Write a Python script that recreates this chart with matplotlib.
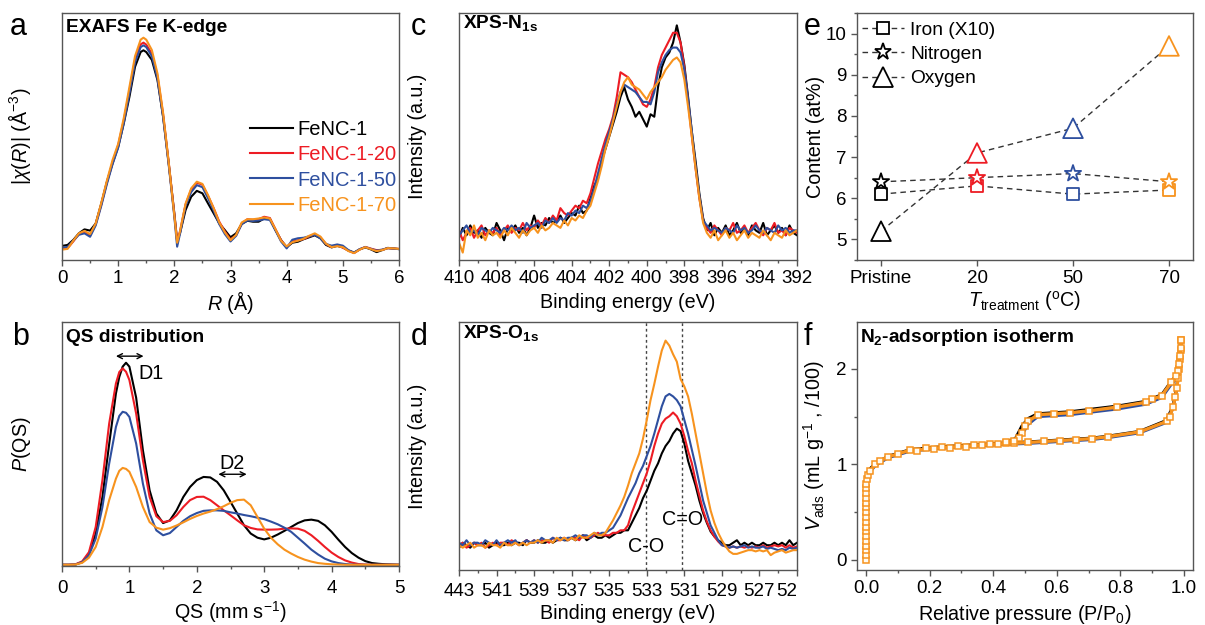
import matplotlib
matplotlib.use('Agg')
import matplotlib.pyplot as plt
import numpy as np
from matplotlib.ticker import MultipleLocator
from matplotlib.lines import Line2D

plt.rcParams['font.family'] = ['Liberation Sans', 'DejaVu Sans']
plt.rcParams['mathtext.fontset'] = 'custom'
plt.rcParams['mathtext.rm'] = 'Liberation Sans'
plt.rcParams['mathtext.it'] = 'Liberation Sans:italic'
plt.rcParams['mathtext.bf'] = 'Liberation Sans:bold'
plt.rcParams['axes.linewidth'] = 1.0
plt.rcParams['axes.edgecolor'] = '#555555'

# ---------------- data ----------------
sample_names = ['FeNC-1', 'FeNC-1-20', 'FeNC-1-50', 'FeNC-1-70']
sample_colors = ['#000000', '#ed1c24', '#2e4f9f', '#f7931e']

# (a) EXAFS |chi(R)|
exafs_r = [0.0, 0.1, 0.2, 0.3, 0.4, 0.5, 0.6, 0.7, 0.8, 0.9,
           1.0, 1.1, 1.2, 1.3, 1.4, 1.45, 1.5, 1.6, 1.7, 1.8,
           1.9, 2.0, 2.05, 2.1, 2.2, 2.3, 2.4, 2.5, 2.6, 2.7,
           2.8, 2.9, 3.0, 3.1, 3.2, 3.3, 3.4, 3.5, 3.6, 3.7,
           3.8, 3.9, 4.0, 4.1, 4.2, 4.3, 4.4, 4.5, 4.6, 4.7,
           4.8, 4.9, 5.0, 5.1, 5.2, 5.3, 5.4, 5.5, 5.6, 5.7,
           5.8, 5.9, 6.0]
exafs_fenc1 = [5.7, 6.1, 8.1, 10.8, 12.4, 11.9, 14.8, 22.9, 31.7, 39.1,
               45.8, 55.3, 66.0, 78.2, 84.2, 84.9, 84.2, 81.0, 72.8, 58.0,
               39.0, 18.9, 7.8, 10.8, 20.2, 25.6, 28.0, 27.0, 22.9, 18.9,
               14.8, 12.1, 9.2, 10.8, 14.6, 15.9, 15.5, 15.5, 16.8, 16.8,
               12.1, 8.1, 5.1, 7.0, 7.4, 8.4, 9.2, 10.0, 8.8, 6.1,
               5.1, 5.7, 5.1, 3.8, 3.0, 4.3, 5.1, 4.3, 3.2, 4.0,
               4.9, 4.7, 4.4]
exafs_fenc1_20 = [4.5, 4.8, 7.5, 10.5, 11.5, 10.0, 14.5, 22.5, 31.5, 39.5,
                  46.5, 56.5, 68.5, 81.0, 87.3, 88.0, 87.2, 83.5, 74.5, 59.0,
                  39.5, 18.5, 7.5, 11.5, 22.5, 28.5, 31.3, 30.5, 26.0, 21.0,
                  15.5, 11.5, 8.3, 10.0, 14.8, 16.5, 16.3, 16.5, 17.5, 17.0,
                  12.5, 8.0, 5.2, 7.5, 8.0, 8.5, 9.5, 10.4, 9.2, 6.5,
                  5.2, 6.0, 5.0, 3.8, 2.8, 4.3, 5.3, 4.6, 4.0, 4.1,
                  4.8, 4.6, 4.5]
exafs_fenc1_50 = [5.0, 5.3, 7.8, 10.2, 10.8, 9.4, 14.0, 22.0, 30.8, 38.8,
                  45.5, 55.5, 67.5, 80.0, 86.2, 86.9, 86.2, 82.5, 73.5, 58.0,
                  38.5, 17.5, 5.4, 10.5, 22.0, 27.5, 30.3, 29.5, 25.0, 20.0,
                  14.5, 10.5, 7.5, 9.8, 14.5, 16.0, 15.8, 16.0, 16.5, 16.2,
                  12.0, 7.5, 4.7, 8.2, 8.8, 9.0, 9.6, 10.2, 8.8, 6.5,
                  5.8, 6.3, 5.8, 4.0, 3.0, 4.4, 5.2, 4.5, 3.8, 4.2,
                  4.8, 4.6, 4.4]
exafs_fenc1_70 = [4.2, 4.5, 7.8, 10.8, 11.8, 10.5, 14.8, 23.2, 32.2, 40.5,
                  47.0, 57.5, 70.0, 82.5, 89.2, 90.0, 89.2, 85.0, 75.5, 59.5,
                  39.5, 18.0, 7.0, 11.5, 22.8, 29.0, 31.7, 30.8, 26.2, 21.0,
                  15.2, 11.2, 8.0, 10.2, 15.2, 16.5, 16.5, 16.8, 17.2, 16.8,
                  12.5, 7.8, 5.5, 7.2, 7.8, 8.6, 9.8, 10.8, 9.5, 6.6,
                  5.2, 5.6, 5.2, 3.6, 2.8, 4.2, 5.2, 4.4, 3.6, 4.0,
                  4.8, 4.7, 4.5]

# (b) QS distribution
qs = [0.0, 0.1, 0.2, 0.3, 0.4, 0.5, 0.6, 0.7, 0.8, 0.85, 0.9, 0.95, 1.0,
      1.1, 1.2, 1.3, 1.4, 1.5, 1.6, 1.7, 1.8, 1.9, 2.0,
      2.1, 2.2, 2.3, 2.4, 2.5, 2.6, 2.7, 2.8, 2.9, 3.0,
      3.1, 3.2, 3.3, 3.4, 3.5, 3.6, 3.7, 3.8, 3.9, 4.0,
      4.1, 4.2, 4.3, 4.4, 4.5, 4.6, 4.7, 4.8, 4.9, 5.0]
pqs_fenc1 = [0.5, 0.5, 0.6, 1.6, 5.0, 13.3, 28.3, 50.0, 70.7, 77.5, 81.7, 83.3, 81.7,
             69.0, 47.5, 31.0, 21.5, 17.6, 18.7, 22.8, 28.3, 32.4, 35.2,
             36.5, 36.3, 34.5, 31.0, 26.3, 21.5, 16.7, 13.3, 11.6, 10.9,
             11.6, 12.9, 14.4, 16.0, 17.6, 18.7, 19.0, 18.5, 16.7, 14.0,
             10.8, 7.8, 5.3, 3.4, 2.0, 1.2, 0.9, 0.7, 0.6, 0.5]
pqs_fenc1_20 = [0.5, 0.5, 0.7, 1.9, 5.7, 16.0, 35.2, 58.4, 74.8, 79.5, 81.0, 79.6, 76.2,
                62.5, 43.4, 28.3, 20.4, 18.0, 18.5, 20.8, 24.2, 27.0, 28.3,
                28.4, 27.0, 24.9, 22.8, 20.8, 18.7, 16.7, 15.6, 15.0, 14.9,
                14.9, 15.0, 15.3, 15.4, 15.3, 14.4, 12.6, 10.3, 7.8, 5.5,
                3.7, 2.3, 1.4, 0.8, 0.6, 0.5, 0.5, 0.5, 0.5, 0.5]
pqs_fenc1_50 = [0.5, 0.5, 0.6, 1.6, 4.4, 11.2, 24.2, 42.0, 57.0, 61.5, 63.2, 62.8, 61.1,
                50.2, 33.8, 21.5, 14.6, 12.6, 13.5, 16.0, 18.5, 20.4, 21.7,
                22.6, 22.8, 22.8, 22.6, 22.0, 21.5, 20.9, 20.4, 19.8, 19.2,
                18.2, 17.1, 15.7, 14.0, 11.6, 9.2, 6.7, 4.7, 3.0, 1.9,
                1.2, 0.8, 0.6, 0.5, 0.5, 0.5, 0.5, 0.5, 0.5, 0.5]
pqs_fenc1_70 = [0.5, 0.5, 0.6, 1.3, 3.4, 7.8, 16.0, 27.0, 35.8, 39.0, 40.2, 39.8, 38.6,
                32.4, 24.2, 18.0, 15.7, 14.9, 15.5, 16.6, 17.9, 19.3, 20.5,
                21.5, 22.3, 23.3, 24.5, 25.9, 27.0, 27.2, 24.9, 20.1, 15.3,
                11.6, 8.9, 6.7, 5.1, 3.7, 2.6, 1.8, 1.2, 0.9, 0.7,
                0.6, 0.5, 0.5, 0.5, 0.5, 0.5, 0.5, 0.5, 0.5, 0.5]

# (c) XPS N1s, binding energy 410 -> 392 eV in 0.2 eV steps
n1s_be = np.round(np.arange(410.0, 391.9, -0.2), 1)
n1s_fenc1 = [9, 13, 10, 14, 11, 12, 9, 13, 11, 10,
             15, 12, 8, 13, 12, 14, 11, 13, 10, 13,
             18, 13, 15, 14, 17, 15, 16, 18, 15, 17,
             19, 18, 22, 19, 20, 25, 30, 33, 40, 45,
             50, 55, 60, 66, 70, 65, 62, 58, 60, 57,
             54, 59, 58, 70, 78, 82, 84, 88, 95, 88,
             79, 66, 52, 40, 27, 17, 12, 15, 10, 13,
             11, 14, 10, 12, 15, 11, 13, 10, 14, 12,
             11, 15, 10, 12, 14, 11, 13, 10, 14, 11,
             10]
n1s_fenc1_20 = [12, 8, 11, 13, 9, 12, 14, 10, 12, 11,
                13, 10, 12, 14, 11, 13, 12, 15, 12, 14,
                13, 16, 14, 17, 15, 18, 16, 21, 19, 18,
                20, 22, 21, 24, 23, 27, 33, 39, 44, 49,
                53, 58, 66, 76, 75, 74, 72, 69, 66, 63,
                62, 65, 70, 78, 83, 86, 89, 92, 92, 88,
                78, 64, 50, 37, 25, 16, 13, 11, 14, 12,
                10, 13, 12, 15, 11, 12, 14, 11, 13, 15,
                12, 10, 13, 12, 15, 11, 12, 10, 13, 12,
                11]
n1s_fenc1_50 = [10, 12, 14, 11, 12, 10, 13, 12, 11, 13,
                12, 11, 13, 12, 14, 12, 13, 11, 15, 13,
                14, 15, 13, 16, 15, 17, 15, 17, 16, 19,
                18, 20, 19, 22, 21, 24, 29, 35, 41, 47,
                52, 57, 63, 68, 71, 70, 69, 68, 66, 64,
                64, 63, 68, 76, 80, 83, 85, 86, 86, 84,
                77, 65, 52, 38, 26, 16, 14, 12, 13, 12,
                11, 13, 12, 11, 14, 12, 13, 11, 12, 14,
                12, 11, 13, 12, 11, 14, 12, 13, 11, 12,
                12]
n1s_fenc1_70 = [7, 3, 12, 10, 14, 9, 11, 8, 12, 10,
                11, 9, 12, 10, 13, 11, 9, 12, 10, 12,
                13, 11, 14, 12, 13, 15, 14, 13, 16, 14,
                17, 16, 18, 17, 20, 22, 27, 32, 38, 45,
                50, 56, 62, 68, 72, 74, 71, 70, 69, 67,
                65, 68, 70, 72, 74, 77, 79, 81, 82, 80,
                73, 62, 50, 37, 25, 15, 11, 9, 12, 8,
                10, 12, 9, 11, 8, 10, 12, 9, 11, 10,
                9, 12, 10, 8, 11, 10, 9, 12, 10, 11,
                12]

# (d) XPS O1s, binding energy 543 -> 525 eV in 0.2 eV steps
o1s_be = np.round(np.arange(543.0, 524.9, -0.2), 1)
o1s_fenc1 = [9, 11, 10, 9, 11, 10, 10, 11, 9, 10,
             11, 10, 10, 11, 10, 11, 11, 10, 12, 11,
             11, 12, 11, 11, 12, 11, 12, 13, 12, 12,
             13, 12, 13, 14, 12, 13, 14, 13, 13, 14,
             13, 14, 15, 15, 16, 16, 19, 22, 25, 29,
             32, 36, 40, 43, 47, 50, 52, 55, 57, 56,
             51, 44, 39, 34, 28, 23, 19, 15.5, 13.5, 12,
             11, 10, 10, 11, 12, 10, 11, 10, 11, 10,
             10, 11, 10, 10, 11, 10, 11, 10, 12, 10,
             11]
o1s_fenc1_20 = [10, 11, 9, 10, 11, 10, 11, 9, 10, 11,
                10, 11, 11, 10, 12, 11, 10, 11, 12, 11,
                12, 11, 12, 12, 11, 13, 12, 12, 13, 12,
                13, 13, 12, 14, 13, 13, 14, 15, 14, 14,
                14, 15, 15, 16, 16, 18, 23, 27, 31, 35,
                39, 44, 50, 55, 59, 61, 62, 63.5, 62, 59,
                54, 48, 43, 36, 30, 24, 19.5, 16, 13.5, 11.5,
                10, 9.5, 9, 9.5, 9, 9.5, 9, 9.5, 9, 9.5,
                9, 10, 9, 9.5, 10, 9.5, 10, 9, 10, 9,
                9.5]
o1s_fenc1_50 = [11, 10, 12, 10, 11, 11, 10, 12, 11, 10,
                12, 10, 11, 12, 11, 12, 10, 11, 12, 11,
                12, 11, 13, 12, 12, 13, 12, 13, 12, 13,
                13, 14, 13, 14, 14, 13, 15, 14, 15, 15,
                16, 17, 19.5, 22, 25.5, 29, 32, 35, 39, 42,
                46, 50, 55, 60.5, 66, 70, 71, 70, 68.5, 66,
                60.5, 55, 48.5, 42, 35, 28, 23, 18, 15, 12,
                10, 9.5, 9, 9.5, 9, 9.5, 10, 9, 9.5, 9,
                9, 9.5, 8.5, 9, 8.5, 8, 8.5, 8, 9, 8.5,
                9]
o1s_fenc1_70 = [10, 9, 10, 11, 9, 10, 10, 9, 11, 10,
                10, 9, 11, 10, 10, 11, 10, 11, 10, 11,
                11, 12, 11, 12, 12, 11, 13, 12, 13, 12,
                13, 12, 14, 13, 13, 14, 15, 14, 14, 15,
                17.5, 20, 23, 26, 29.5, 34, 39, 43, 47, 53,
                60.5, 68.5, 75, 82, 88.5, 92.5, 90.5, 87, 84, 77,
                74, 70, 63, 55, 47, 39, 31, 24, 19, 15,
                12, 9.5, 7.5, 6.5, 6.5, 7, 7.5, 8, 8, 7.5,
                8, 7.5, 8, 6, 7, 7.5, 8, 7, 7.5, 8,
                8]
o1s_peak_positions = [533.05, 531.1]
o1s_peak_labels = ['C-O', 'C=O']

# (e) element content
treatments = ['Pristine', '20', '50', '70']
iron_x10 = [6.1, 6.3, 6.1, 6.2]
nitrogen = [6.4, 6.5, 6.6, 6.4]
oxygen = [5.2, 7.1, 7.7, 9.7]

# (f) N2 isotherm (FeNC-1-70 with markers; others as lines)
p_ads = [0.0, 0.0, 0.0, 0.0, 0.0, 0.0, 0.0, 0.0, 0.0, 0.0, 0.0, 0.0, 0.0, 0.0, 0.0, 0.0,
         0.001, 0.003, 0.006, 0.012, 0.03, 0.045, 0.07, 0.10, 0.14, 0.16, 0.19, 0.215,
         0.24, 0.265, 0.29, 0.315, 0.34, 0.365, 0.39, 0.415, 0.44, 0.465, 0.51, 0.56,
         0.61, 0.66, 0.71, 0.76, 0.86, 0.945, 0.955, 0.965, 0.972, 0.977, 0.981, 0.984,
         0.987, 0.989, 0.990]
v_ads_70 = [0.0, 0.05, 0.10, 0.15, 0.20, 0.25, 0.30, 0.35, 0.40, 0.45, 0.50, 0.55, 0.60, 0.65, 0.70, 0.75,
            0.80, 0.85, 0.89, 0.93, 1.00, 1.04, 1.08, 1.11, 1.15, 1.14, 1.17, 1.165,
            1.18, 1.175, 1.19, 1.185, 1.20, 1.20, 1.21, 1.21, 1.22, 1.22, 1.23, 1.24,
            1.25, 1.26, 1.27, 1.29, 1.34, 1.45, 1.50, 1.60, 1.70, 1.80, 1.90, 2.00,
            2.10, 2.20, 2.30]
p_des = [0.990, 0.989, 0.987, 0.984, 0.980, 0.975, 0.960, 0.930, 0.900, 0.880, 0.790,
         0.700, 0.640, 0.590, 0.540, 0.510, 0.500, 0.490, 0.480, 0.465, 0.440]
v_des_70 = [2.30, 2.22, 2.13, 2.05, 1.98, 1.92, 1.86, 1.72, 1.68, 1.65, 1.60,
            1.56, 1.54, 1.53, 1.52, 1.45, 1.40, 1.33, 1.28, 1.25, 1.23]
p_line_ads = [0.0, 0.0, 0.003, 0.012, 0.03, 0.07, 0.14, 0.24, 0.34, 0.44, 0.51, 0.61,
              0.71, 0.76, 0.86, 0.945, 0.965, 0.977, 0.984, 0.990]
v_ads_1 = [0.0, 0.80, 0.90, 0.95, 1.01, 1.085, 1.155, 1.185, 1.205, 1.225, 1.235, 1.255,
           1.275, 1.295, 1.345, 1.46, 1.61, 1.81, 2.01, 2.31]
v_ads_50 = [0.0, 0.80, 0.88, 0.92, 0.99, 1.07, 1.14, 1.17, 1.19, 1.21, 1.22, 1.24,
            1.26, 1.28, 1.33, 1.44, 1.59, 1.79, 1.99, 2.28]
p_line_des = [0.990, 0.975, 0.960, 0.930, 0.880, 0.790, 0.640, 0.540, 0.510, 0.490, 0.470, 0.440]
v_des_1 = [2.31, 1.93, 1.87, 1.73, 1.66, 1.61, 1.55, 1.53, 1.48, 1.40, 1.27, 1.235]
v_des_50 = [2.28, 1.89, 1.84, 1.70, 1.63, 1.58, 1.52, 1.50, 1.42, 1.31, 1.24, 1.22]

# ---------------- figure ----------------
W, H = 1205, 625
fig = plt.figure(figsize=(W / 100, H / 100), dpi=100)


def px_axes(l, t, r, b):
    return fig.add_axes([l / W, 1 - b / H, (r - l) / W, (b - t) / H])


TICK_FS = 13.5
LABEL_FS = 14.2
TITLE_FS = 13.8
NOTE_FS = 14.2
LW = 1.5


def style(ax, yticks=False):
    ax.tick_params(axis='both', which='both', direction='out', top=False, right=False,
                   labelsize=TICK_FS, color='#555555')
    ax.tick_params(which='major', length=4, width=1)
    ax.tick_params(which='minor', length=2.5, width=1)
    if not yticks:
        ax.set_yticks([])


axa = px_axes(62, 13, 399, 260)
axb = px_axes(62, 322, 399, 566)
axc = px_axes(459, 13, 797, 260)
axd = px_axes(459, 322, 797, 570)
axe = px_axes(857, 13, 1193, 260)
axf = px_axes(857, 322, 1193, 570)

# ---- (a)
for y, c, n in zip([exafs_fenc1, exafs_fenc1_20, exafs_fenc1_50, exafs_fenc1_70], sample_colors, sample_names):
    axa.plot(exafs_r, y, color=c, lw=LW, label=n)
axa.set_xlim(0, 6)
axa.set_ylim(0, 100)
style(axa)
axa.xaxis.set_major_locator(MultipleLocator(1))
axa.xaxis.set_minor_locator(MultipleLocator(0.5))
axa.set_xlabel(r'$R$ (Å)', fontsize=LABEL_FS)
axa.set_ylabel(r'|$\chi$($R$)| (Å$^{-3}$)', fontsize=LABEL_FS)
axa.xaxis.set_label_coords(0.5, -0.117)
axa.yaxis.set_label_coords(-0.086, 0.5)
axa.text(0.012, 0.923, 'EXAFS Fe K-edge', transform=axa.transAxes, fontsize=TITLE_FS,
         fontweight='bold', va='baseline', ha='left')
axa.legend(loc='upper left', bbox_to_anchor=(0.558, 0.565), frameon=False, fontsize=14.5,
           handlelength=2.15, handletextpad=0.2, labelspacing=0.3, borderpad=0,
           borderaxespad=0, labelcolor='linecolor')

# ---- (b)
for y, c in zip([pqs_fenc1, pqs_fenc1_20, pqs_fenc1_50, pqs_fenc1_70], sample_colors):
    axb.plot(qs, y, color=c, lw=LW)
axb.set_xlim(0, 5)
axb.set_ylim(0, 100)
style(axb)
axb.xaxis.set_major_locator(MultipleLocator(1))
axb.xaxis.set_minor_locator(MultipleLocator(0.5))
axb.tick_params(axis='x', pad=6)
axb.set_xlabel(r'QS (mm s$^{-1}$)', fontsize=LABEL_FS)
axb.set_ylabel(r'$P$(QS)', fontsize=LABEL_FS)
axb.xaxis.set_label_coords(0.5, -0.137)
axb.yaxis.set_label_coords(-0.086, 0.5)
axb.text(0.012, 0.918, 'QS distribution', transform=axb.transAxes, fontsize=TITLE_FS,
         fontweight='bold', va='baseline', ha='left')
arrow_kw = dict(arrowstyle='<->', lw=1, color='k', shrinkA=0, shrinkB=0, mutation_scale=9)
axb.annotate('', xy=(0.80, 86.0), xytext=(1.21, 86.0), arrowprops=arrow_kw)
axb.text(1.13, 78.9, 'D1', fontsize=NOTE_FS, va='center', ha='left')
axb.annotate('', xy=(2.32, 37.6), xytext=(2.74, 37.6), arrowprops=arrow_kw)
axb.text(2.52, 42.0, 'D2', fontsize=NOTE_FS, va='center', ha='center')

# ---- (c)
for y, c in zip([n1s_fenc1, n1s_fenc1_20, n1s_fenc1_50, n1s_fenc1_70], sample_colors):
    axc.plot(n1s_be, y, color=c, lw=LW)
axc.set_xlim(410, 392)
axc.set_ylim(0, 100)
style(axc)
axc.set_xticks(np.arange(410, 391, -2))
axc.xaxis.set_minor_locator(MultipleLocator(1))
axc.set_xlabel('Binding energy (eV)', fontsize=LABEL_FS)
axc.set_ylabel('Intensity (a.u.)', fontsize=LABEL_FS)
axc.xaxis.set_label_coords(0.5, -0.135)
axc.yaxis.set_label_coords(-0.095, 0.5)
axc.text(0.012, 0.94, r'XPS-N$_{\mathbf{1s}}$', transform=axc.transAxes, fontsize=TITLE_FS,
         fontweight='bold', va='baseline', ha='left')

# ---- (d)
for y, c in zip([o1s_fenc1, o1s_fenc1_20, o1s_fenc1_50, o1s_fenc1_70], sample_colors):
    axd.plot(o1s_be, y, color=c, lw=LW)
for xv in o1s_peak_positions:
    axd.axvline(xv, color='#444444', lw=1, ls=(0, (2, 2)), zorder=0)
axd.set_xlim(543, 525)
axd.set_ylim(0, 100)
style(axd)
axd.set_xticks(np.arange(543, 524, -2))
axd.set_xticklabels(['443', '541', '539', '537', '535', '533', '531', '529', '527', '52'])
axd.get_xticklabels()[-1].set_ha('right')
axd.xaxis.set_minor_locator(MultipleLocator(1))
axd.tick_params(axis='x', pad=5)
axd.set_xlabel('Binding energy (eV)', fontsize=LABEL_FS)
axd.set_ylabel('Intensity (a.u.)', fontsize=LABEL_FS)
axd.xaxis.set_label_coords(0.5, -0.137)
axd.yaxis.set_label_coords(-0.095, 0.5)
axd.text(0.012, 0.935, r'XPS-O$_{\mathbf{1s}}$', transform=axd.transAxes, fontsize=TITLE_FS,
         fontweight='bold', va='baseline', ha='left')
axd.text(o1s_peak_positions[0], 9.4, o1s_peak_labels[0], fontsize=NOTE_FS, ha='center', va='center')
axd.text(o1s_peak_positions[1], 20.2, o1s_peak_labels[1], fontsize=NOTE_FS, ha='center', va='center')

# ---- (e)
xe = np.arange(len(treatments))
dash = (0, (4, 3))
series_e = [(iron_x10, 's', 70, 'Iron (X10)'), (nitrogen, '*', 150, 'Nitrogen'),
            (oxygen, '^', 200, 'Oxygen')]
handles = []
for vals, mk, s, lab in series_e:
    axe.plot(xe, vals, color='#333333', lw=1, ls=dash, zorder=1)
    axe.scatter(xe, vals, marker=mk, s=s, facecolors='white', edgecolors=sample_colors,
                linewidths=1.3, zorder=3)
    handles.append(Line2D([], [], color='#333333', lw=1, ls=dash, marker=mk,
                          markersize=np.sqrt(s), mfc='white', mec='black', mew=1.3, label=lab))
axe.set_xlim(-0.25, 3.25)
axe.set_ylim(4.5, 10.5)
style(axe, yticks=True)
axe.set_xticks(xe)
axe.set_xticklabels(treatments)
axe.set_yticks([5, 6, 7, 8, 9, 10])
axe.yaxis.set_minor_locator(MultipleLocator(0.5))
axe.set_ylabel('Content (at%)', fontsize=LABEL_FS)
axe.set_xlabel(r'$T_{\rm treatment}$ ($^{\rm o}$C)', fontsize=LABEL_FS)
axe.xaxis.set_label_coords(0.5, -0.117)
axe.yaxis.set_label_coords(-0.095, 0.5)
axe.legend(handles=handles, loc='upper left', bbox_to_anchor=(0.015, 0.965), frameon=False,
           fontsize=TITLE_FS, handlelength=2.2, handletextpad=0.3, labelspacing=0.35,
           borderpad=0, borderaxespad=0, numpoints=1)

# ---- (f)
axf.plot(p_line_ads, v_ads_1, color='#000000', lw=2.2, zorder=1)
axf.plot(p_line_des, v_des_1, color='#000000', lw=2.2, zorder=1)
axf.plot(p_line_ads, v_ads_50, color='#2e4f9f', lw=2.2, zorder=1)
axf.plot(p_line_des, v_des_50, color='#2e4f9f', lw=2.2, zorder=1)
for px, vy in [(p_ads, v_ads_70), (p_des, v_des_70)]:
    axf.plot(px, vy, color='#f7931e', lw=2.4, marker='s', ms=4.6, mfc='#fffaf0',
             mec='#f7931e', mew=1.1, zorder=2)
axf.set_xlim(-0.028, 1.028)
axf.set_ylim(-0.105, 2.49)
style(axf, yticks=True)
axf.set_xticks([0.0, 0.2, 0.4, 0.6, 0.8, 1.0])
axf.set_xticklabels(['0.0', '0.2', '0.4', '0.6', '0.8', '1.0'])
axf.xaxis.set_minor_locator(MultipleLocator(0.1))
axf.set_yticks([0, 1, 2])
axf.yaxis.set_minor_locator(MultipleLocator(0.5))
axf.set_xlabel(r'Relative pressure (P/P$_0$)', fontsize=LABEL_FS)
axf.set_ylabel(r'$V_{\rm ads}$ (mL g$^{-1}$ , /100)', fontsize=LABEL_FS)
axf.xaxis.set_label_coords(0.5, -0.133)
axf.yaxis.set_label_coords(-0.09, 0.5)
axf.text(0.01, 0.918, r'N$_{\mathbf{2}}$-adsorption isotherm', transform=axf.transAxes,
         fontsize=TITLE_FS, fontweight='bold', va='baseline', ha='left')

# panel letters
for letter, x, y in [('a', 10, 35), ('b', 12, 345), ('c', 411, 35), ('d', 411, 345),
                     ('e', 804, 35), ('f', 804, 345)]:
    fig.text(x / W, 1 - y / H, letter, fontsize=22, ha='left', va='baseline')

fig.savefig('out.png', dpi=100)
